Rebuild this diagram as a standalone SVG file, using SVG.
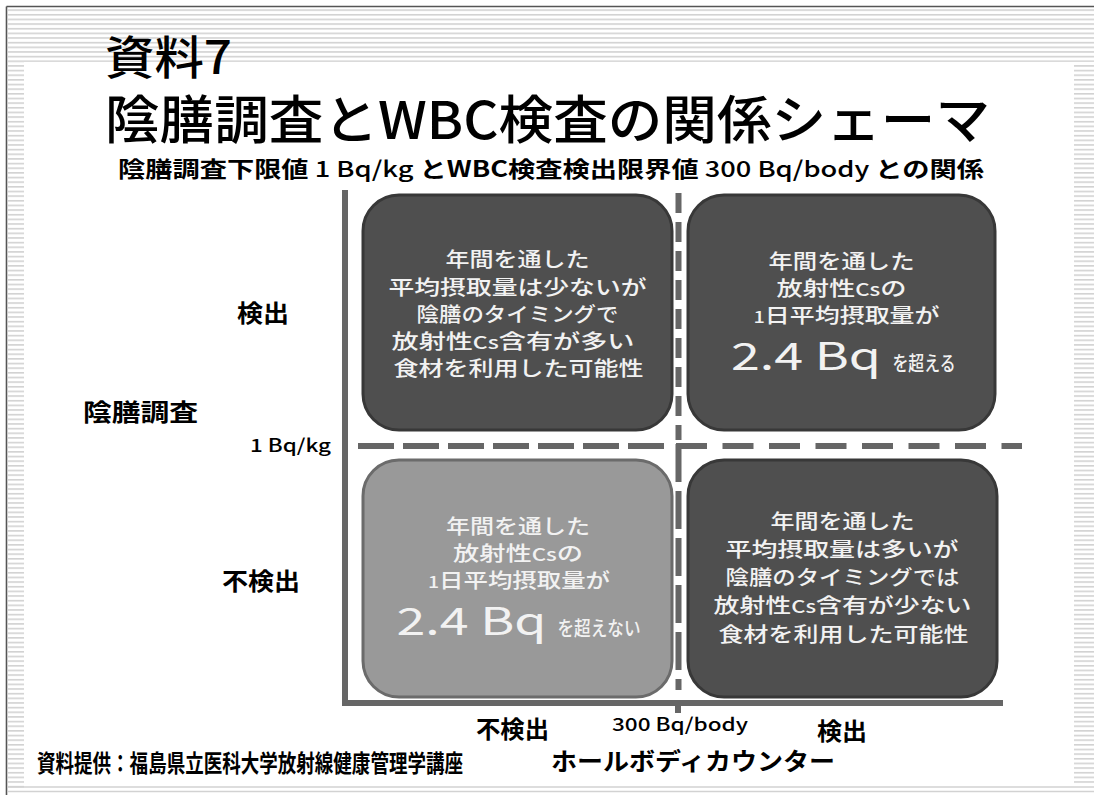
<svg xmlns="http://www.w3.org/2000/svg" width="1094" height="795" viewBox="0 0 1094 795">
<defs>
<pattern id="hs" width="8" height="4.65" patternUnits="userSpaceOnUse">
<rect x="0" y="0" width="8" height="4.65" fill="#ffffff"/>
<rect x="0" y="0" width="8" height="1.6" fill="#d2d2d2"/>
</pattern>
<style>
text{font-family:"Noto Sans CJK JP","Noto Sans",sans-serif;}
.box{fill:#4f4f4f;stroke:#383838;stroke-width:3;}
.boxl{fill:#999999;stroke:#6b6b6b;stroke-width:3;}
.bt{fill:#f2f2f2;font-size:20px;text-anchor:middle;font-weight:500;}
.big{font-size:38px;font-weight:normal;}
.lab{fill:#000;font-weight:bold;font-size:24px;}
.axis{stroke:#666;stroke-width:6;fill:none;}
.dash{stroke:#666;stroke-width:6;fill:none;}
</style>
</defs>
<rect width="1094" height="795" fill="#ffffff"/>
<g id="frame">
<rect x="8" y="9" width="1086" height="53" fill="url(#hs)"/>
<rect x="8" y="62" width="16" height="726" fill="url(#hs)"/>
<rect x="1074" y="64" width="20" height="720" fill="url(#hs)"/>
<line x1="8" y1="787" x2="1094" y2="787" stroke="#d2d2d2" stroke-width="1.5"/>
<line x1="8" y1="791.5" x2="1094" y2="791.5" stroke="#d2d2d2" stroke-width="1.5"/>
<line x1="6.5" y1="6.5" x2="1094" y2="6.5" stroke="#555" stroke-width="1.6"/>
<line x1="6.5" y1="6.5" x2="6.5" y2="795" stroke="#555" stroke-width="1.6"/>
</g>
<g id="title">
<text x="105" y="74" font-size="46" font-weight="500" textLength="127" lengthAdjust="spacingAndGlyphs">資料7</text>
<text x="105" y="139" font-size="52" font-weight="500" textLength="885" lengthAdjust="spacingAndGlyphs">陰膳調査とWBC検査の関係シェーマ</text>
<text x="118" y="177" font-size="22" font-weight="bold" textLength="866" lengthAdjust="spacingAndGlyphs">陰膳調査下限値<tspan font-weight="500"> 1 Bq/kg </tspan>とWBC検査検出限界値<tspan font-weight="500"> 300 Bq/body </tspan>との関係</text>
</g>
<g id="connectors">
<polyline class="axis" points="345,190 345,703 1003,703"/>
<line class="axis" x1="678" y1="703" x2="678" y2="713" stroke-width="5"/>
<line class="dash" x1="678.5" y1="193" x2="678.5" y2="440" stroke-dasharray="20 9" stroke-width="6"/>
<line class="dash" x1="678.5" y1="444" x2="678.5" y2="690" stroke-dasharray="38 9" stroke-width="6"/>
<line class="dash" x1="358" y1="446" x2="670" y2="446" stroke-dasharray="36 9"/>
<line class="dash" x1="676" y1="446" x2="1022" y2="446" stroke-dasharray="31 15.5"/>
</g>
<g id="box-tl">
<rect class="box" x="363" y="195" width="309" height="235" rx="36"/>
<text class="bt" x="517.5" y="267" textLength="144" lengthAdjust="spacingAndGlyphs">年間を通した</text>
<text class="bt" x="517.5" y="295" textLength="258" lengthAdjust="spacingAndGlyphs">平均摂取量は少ないが</text>
<text class="bt" x="517.5" y="322" textLength="202" lengthAdjust="spacingAndGlyphs">陰膳のタイミングで</text>
<text class="bt" x="513" y="349" textLength="243" lengthAdjust="spacingAndGlyphs">放射性<tspan font-size="17">Cs</tspan>含有が多い</text>
<text class="bt" x="518.5" y="376" textLength="250" lengthAdjust="spacingAndGlyphs">食材を利用した可能性</text>
</g>
<g id="box-tr">
<rect class="box" x="688" y="195" width="307" height="235" rx="36"/>
<text class="bt" x="841.5" y="269" textLength="146" lengthAdjust="spacingAndGlyphs">年間を通した</text>
<text class="bt" x="841.5" y="296" textLength="130" lengthAdjust="spacingAndGlyphs">放射性<tspan font-size="17">Cs</tspan>の</text>
<text class="bt" x="846.5" y="323" textLength="186" lengthAdjust="spacingAndGlyphs"><tspan font-size="16">1</tspan>日平均摂取量が</text>
<text class="bt big" x="806" y="370" textLength="150" lengthAdjust="spacingAndGlyphs">2.4 Bq</text>
<text class="bt" x="924" y="371" font-size="22" textLength="63" lengthAdjust="spacingAndGlyphs">を超える</text>
</g>
<g id="box-bl">
<rect class="boxl" x="363" y="460" width="309" height="237" rx="36"/>
<text class="bt" x="518" y="534" textLength="144" lengthAdjust="spacingAndGlyphs">年間を通した</text>
<text class="bt" x="518" y="561" textLength="130" lengthAdjust="spacingAndGlyphs">放射性<tspan font-size="17">Cs</tspan>の</text>
<text class="bt" x="519" y="588" textLength="182" lengthAdjust="spacingAndGlyphs"><tspan font-size="16">1</tspan>日平均摂取量が</text>
<text class="bt big" x="471.5" y="635" textLength="150" lengthAdjust="spacingAndGlyphs">2.4 Bq</text>
<text class="bt" x="599" y="636" font-size="22" textLength="83" lengthAdjust="spacingAndGlyphs">を超えない</text>
</g>
<g id="box-br">
<rect class="box" x="688" y="460" width="309" height="237" rx="36"/>
<text class="bt" x="842.5" y="529" textLength="144" lengthAdjust="spacingAndGlyphs">年間を通した</text>
<text class="bt" x="842" y="557" textLength="233" lengthAdjust="spacingAndGlyphs">平均摂取量は多いが</text>
<text class="bt" x="842.5" y="585" textLength="234" lengthAdjust="spacingAndGlyphs">陰膳のタイミングでは</text>
<text class="bt" x="842.5" y="613" textLength="258" lengthAdjust="spacingAndGlyphs">放射性<tspan font-size="17">Cs</tspan>含有が少ない</text>
<text class="bt" x="843.5" y="642" textLength="250" lengthAdjust="spacingAndGlyphs">食材を利用した可能性</text>
</g>
<g id="labels">
<text class="lab" x="237" y="322" textLength="52" lengthAdjust="spacingAndGlyphs">検出</text>
<text class="lab" x="83" y="421" font-size="26" textLength="115" lengthAdjust="spacingAndGlyphs">陰膳調査</text>
<text x="250" y="452" font-size="18" font-weight="500" textLength="81" lengthAdjust="spacingAndGlyphs">1 Bq/kg</text>
<text class="lab" x="222" y="590" textLength="78" lengthAdjust="spacingAndGlyphs">不検出</text>
<text class="lab" x="476" y="738" textLength="73" lengthAdjust="spacingAndGlyphs">不検出</text>
<text x="612" y="731" font-size="18" font-weight="500" textLength="136" lengthAdjust="spacingAndGlyphs">300 Bq/body</text>
<text class="lab" x="817" y="740" textLength="50" lengthAdjust="spacingAndGlyphs">検出</text>
<text class="lab" x="551" y="770" font-size="26" textLength="284" lengthAdjust="spacingAndGlyphs">ホールボディカウンター</text>
<text class="lab" x="37" y="772" font-size="18" textLength="426" lengthAdjust="spacingAndGlyphs">資料提供：福島県立医科大学放射線健康管理学講座</text>
</g>
</svg>
